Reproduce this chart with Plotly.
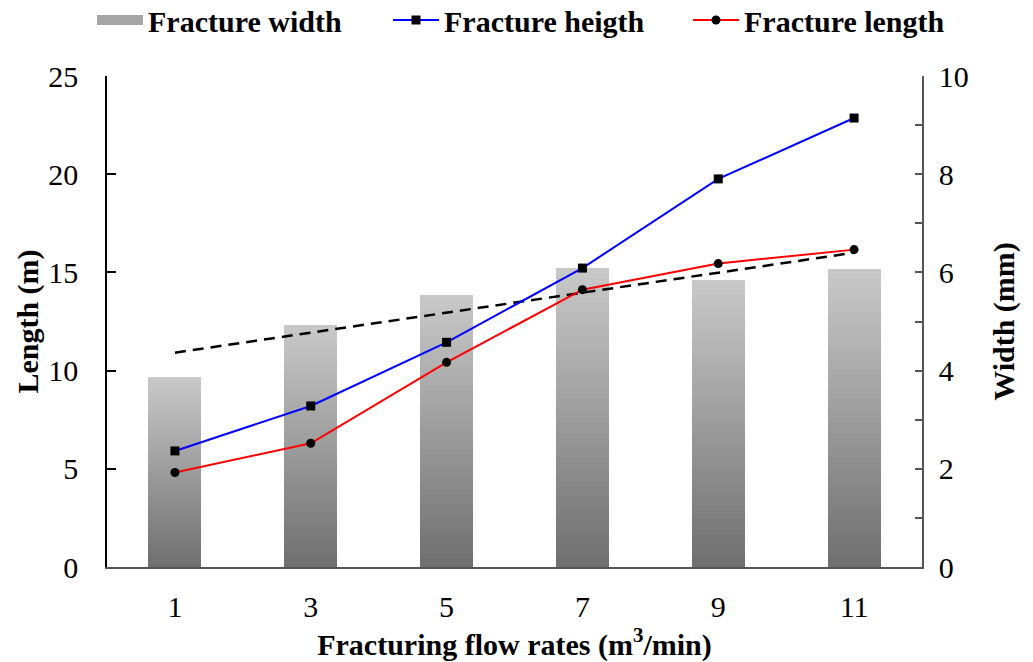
import numpy as np
import plotly.graph_objects as go

# Data
flow_rates = [1, 3, 5, 7, 9, 11]
categories = [str(v) for v in flow_rates]
fracture_width = [3.87, 4.92, 5.53, 6.08, 5.84, 6.06]      # mm
fracture_height = [5.91, 8.20, 11.44, 15.22, 19.76, 22.86]  # m
fracture_length = [4.81, 6.30, 10.42, 14.12, 15.45, 16.16]  # m

width_ticks = list(range(0, 11))
width_ticktext = [str(v) if v % 2 == 0 else "" for v in width_ticks]

FONT = "Liberation Serif"
FS = 30
N_SEG = 60
TOP_GREY = 200
BOTTOM_GREY = 112

fig = go.Figure()

# Gradient bars: each bar is a stack of thin slices, dark at the base, light at the top
w_arr = np.array(fracture_width)
for k in range(N_SEG):
    t = k / (N_SEG - 1)
    g = int(round(BOTTOM_GREY + (TOP_GREY - BOTTOM_GREY) * t))
    fig.add_trace(go.Bar(
        x=categories,
        y=w_arr / N_SEG,
        yaxis="y",
        width=0.39,
        marker=dict(color=f"rgb({g},{g},{g})", line=dict(width=0)),
        showlegend=False,
        hoverinfo="skip",
    ))

# Legend key for the width bars (a wide grey swatch)
fig.add_trace(go.Scatter(
    x=[None], y=[None], yaxis="y", mode="lines",
    name="Fracture width",
    line=dict(color="rgb(165,165,165)", width=16),
    legend="legend",
))

# Linear trend of fracture width
slope, intercept = np.polyfit(flow_rates, fracture_width, 1)
trend = [slope * x + intercept for x in flow_rates]
fig.add_trace(go.Scatter(
    x=categories, y=trend, yaxis="y", mode="lines",
    line=dict(color="black", width=2.5, dash="11px,7px"),
    showlegend=False,
))

fig.add_trace(go.Scatter(
    x=categories, y=fracture_height, yaxis="y2", mode="lines+markers",
    name="Fracture heigth",
    line=dict(color="#0000FF", width=2),
    marker=dict(symbol="square", size=9, color="black"),
    legend="legend2",
))
fig.add_trace(go.Scatter(
    x=categories, y=fracture_length, yaxis="y2", mode="lines+markers",
    name="Fracture length",
    line=dict(color="#FF0000", width=2),
    marker=dict(symbol="circle", size=9, color="black"),
    legend="legend3",
))


def legend_box(x_px, mid_px=20):
    return dict(
        orientation="h",
        xref="container", yref="container",
        x=x_px / 1033, y=1 - mid_px / 662,
        xanchor="left", yanchor="middle",
        itemwidth=46,
        font=dict(family=FONT, size=FS, color="black", weight="bold"),
        bgcolor="rgba(0,0,0,0)",
    )


fig.update_layout(
    width=1033, height=662,
    margin=dict(l=107, r=111, t=76, b=95, autoexpand=False),
    paper_bgcolor="white", plot_bgcolor="white",
    font=dict(family=FONT, size=FS, color="black"),
    barmode="stack",
    bargap=0.6,
    legend=legend_box(92),
    legend2=legend_box(388),
    legend3=legend_box(688),
    xaxis=dict(
        type="category",
        range=[-0.5, 5.5],
        showline=True, linecolor="#555555", linewidth=2,
        ticks="", showgrid=False, zeroline=False,
        ticklabelstandoff=12,
        tickfont=dict(size=FS),
        title=dict(text="<b>Fracturing flow rates (m<sup>3</sup>/min)</b>",
                   font=dict(size=FS), standoff=1),
    ),
    yaxis=dict(
        side="right",
        range=[0, 10],
        tickvals=width_ticks, ticktext=width_ticktext,
        ticks="inside", ticklen=7, tickcolor="#555555", tickwidth=1.5,
        showline=True, linecolor="#555555", linewidth=1.5,
        showgrid=False, zeroline=False,
        ticklabelstandoff=9,
        tickfont=dict(size=FS),
        title=dict(text="<b>Width (mm)</b>", font=dict(size=FS), standoff=25),
    ),
    yaxis2=dict(
        side="left", overlaying="y",
        range=[0, 25], tickvals=[0, 5, 10, 15, 20, 25],
        ticks="inside", ticklen=9, tickcolor="black", tickwidth=1.5,
        showline=True, linecolor="black", linewidth=1.5,
        showgrid=False, zeroline=False,
        ticklabelstandoff=21,
        tickfont=dict(size=FS),
        title=dict(text="<b>Length (m)</b>", font=dict(size=FS), standoff=1),
    ),
)

fig.write_html("out.html")
